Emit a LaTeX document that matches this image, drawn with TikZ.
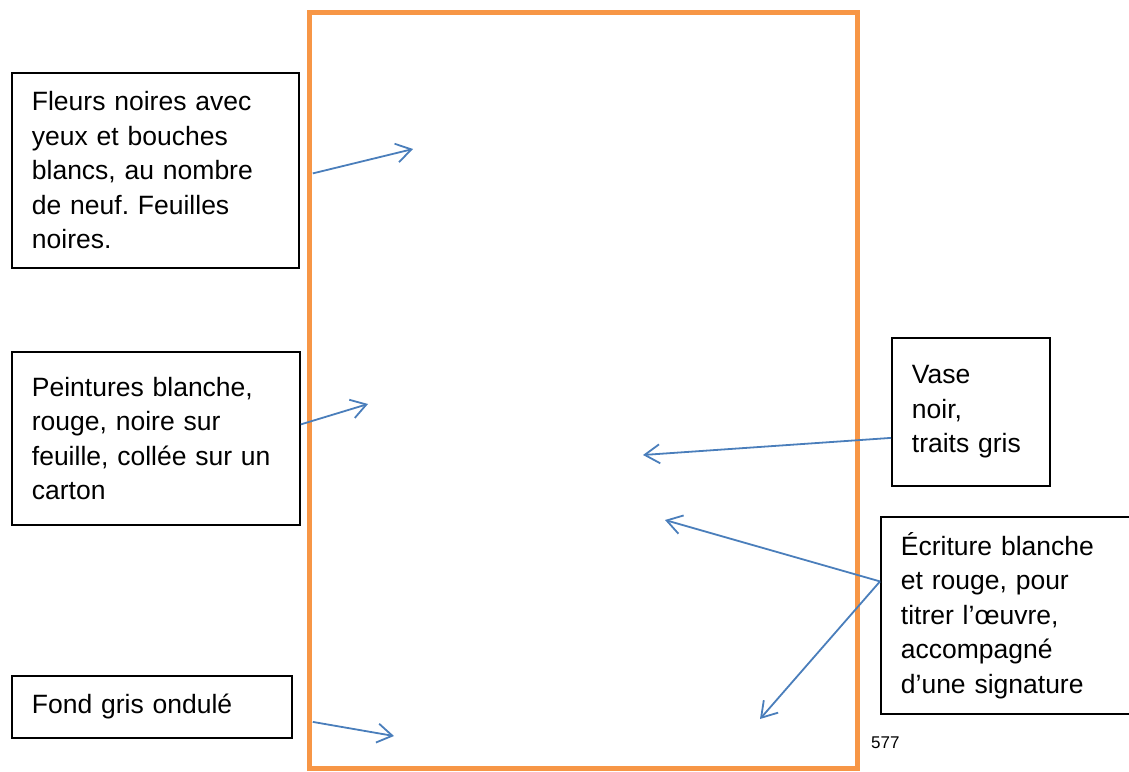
\documentclass[tikz,border=0pt]{standalone}
\usepackage{fontspec}
\setmainfont{Liberation Sans}
\usetikzlibrary{arrows.meta}
\definecolor{frameorange}{HTML}{F79646}
\definecolor{arrowblue}{HTML}{4A7EBB}
\frenchspacing
\begin{document}
\begin{tikzpicture}[x=1pt,y=-1pt,
  labelbox/.style={draw=black,line width=1.8pt,anchor=north west,inner xsep=20pt,inner ysep=0pt,align=left,font=\fontsize{26.5}{34.5}\selectfont},
  pointer/.style={draw=arrowblue,line width=1.8pt,-{Straight Barb[length=15pt,width=19pt,line width=1.8pt]}}]
\useasboundingbox (0,0) rectangle (1129,771);
\draw[frameorange,line width=5pt] (309,12) rectangle (857,768); % the painting
% boxes on the left
\node[labelbox,text width=247pt,minimum height=195pt] (fleurs) at (11,72) {Fleurs noires avec\\yeux et bouches\\blancs, au nombre\\de neuf. Feuilles\\noires.};
\node[labelbox,text width=248pt,minimum height=173pt] (peintures) at (11,351) {Peintures blanche,\\rouge, noire sur\\feuille, collée sur un\\carton};
\node[labelbox,text width=240pt,minimum height=62pt] (fond) at (11,675) {Fond gris ondulé};
% boxes on the right
\node[labelbox,text width=118pt,minimum height=148pt] (vase) at (891,337) {Vase\\noir,\\traits gris};
\node[labelbox,text width=240pt,minimum height=197pt] (ecriture) at (880,516) {Écriture blanche\\et rouge, pour\\titrer l’œuvre,\\accompagné\\d’une signature};
\node[anchor=base west,inner sep=0pt,font=\fontsize{17}{20}\selectfont] (page) at (871,748) {577};
% arrow heads
\coordinate (fleurs head) at (413,149);
\coordinate (peintures head) at (368,404);
\coordinate (fond head) at (394,736);
\coordinate (vase head) at (643,455);
\coordinate (titre head) at (665,520);
\coordinate (signature head) at (760,719);
\draw[pointer] ([xshift=13pt,yshift=-3pt]fleurs.east) -- (fleurs head);
\draw[pointer] ([yshift=14pt]peintures.east) -- (peintures head);
\draw[pointer] ([xshift=20pt,yshift=-15pt]fond.east) -- (fond head);
\draw[pointer] ([yshift=-26pt]vase.west) -- (vase head);
\draw[pointer] ([yshift=34pt]ecriture.west) -- (titre head);
\draw[pointer] ([yshift=34pt]ecriture.west) -- (signature head);
\end{tikzpicture}
\end{document}
